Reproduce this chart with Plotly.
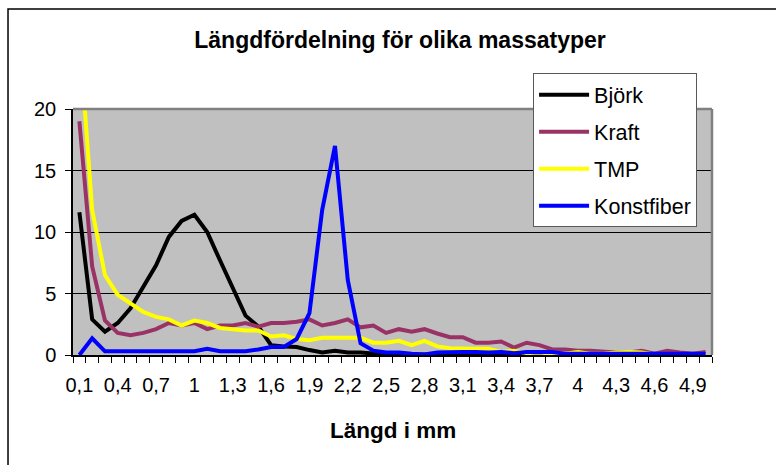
import plotly.graph_objects as go

# Category axis: fibre length in mm
lengths = [0.1, 0.2, 0.3, 0.4, 0.5, 0.6, 0.7, 0.8, 0.9, 1.0,
           1.1, 1.2, 1.3, 1.4, 1.5, 1.6, 1.7, 1.8, 1.9, 2.0,
           2.1, 2.2, 2.3, 2.4, 2.5, 2.6, 2.7, 2.8, 2.9, 3.0,
           3.1, 3.2, 3.3, 3.4, 3.5, 3.6, 3.7, 3.8, 3.9, 4.0,
           4.1, 4.2, 4.3, 4.4, 4.5, 4.6, 4.7, 4.8, 4.9, 5.0]

bjork = [11.6, 2.9, 1.9, 2.6, 3.8, 5.6, 7.3, 9.6, 10.9, 11.4,
         10.0, 7.7, 5.4, 3.2, 2.3, 0.8, 0.7, 0.65, 0.4, 0.2,
         0.35, 0.2, 0.2, 0.1, 0.05, 0.05, 0.05, 0.0, 0.0, 0.0,
         0.0, 0.0, 0.0, 0.0, 0.0, 0.0, 0.0, 0.0, 0.0, 0.0,
         0.0, 0.0, 0.0, 0.0, 0.0, 0.0, 0.0, 0.0, 0.0, 0.0]

kraft = [19.0, 7.2, 2.8, 1.8, 1.6, 1.8, 2.1, 2.6, 2.4, 2.6,
         2.1, 2.4, 2.4, 2.6, 2.3, 2.6, 2.6, 2.7, 2.9, 2.4,
         2.6, 2.9, 2.25, 2.4, 1.8, 2.1, 1.9, 2.1, 1.75, 1.45,
         1.45, 1.0, 1.0, 1.1, 0.6, 1.0, 0.8, 0.45, 0.45, 0.35,
         0.35, 0.25, 0.2, 0.2, 0.35, 0.1, 0.35, 0.2, 0.1, 0.25]

tmp = [26.0, 11.8, 6.5, 4.9, 4.2, 3.5, 3.1, 2.9, 2.4, 2.8,
       2.6, 2.2, 2.1, 2.0, 2.0, 1.5, 1.6, 1.3, 1.2, 1.4,
       1.4, 1.4, 1.4, 1.0, 1.0, 1.15, 0.8, 1.15, 0.7, 0.55,
       0.5, 0.5, 0.5, 0.25, 0.35, 0.15, 0.2, 0.1, 0.1, 0.25,
       0.1, 0.1, 0.2, 0.25, 0.2, 0.05, 0.05, 0.05, 0.05, 0.0]

konstfiber = [0.0, 1.35, 0.3, 0.3, 0.3, 0.3, 0.3, 0.3, 0.3, 0.3,
              0.5, 0.3, 0.3, 0.3, 0.45, 0.65, 0.65, 1.3, 3.4, 11.8,
              17.0, 6.1, 0.95, 0.35, 0.2, 0.2, 0.1, 0.05, 0.2, 0.25,
              0.25, 0.25, 0.2, 0.25, 0.15, 0.25, 0.25, 0.25, 0.1, 0.1,
              0.1, 0.1, 0.1, 0.1, 0.1, 0.1, 0.1, 0.1, 0.1, 0.1]

tick_vals = [0.1, 0.4, 0.7, 1.0, 1.3, 1.6, 1.9, 2.2, 2.5, 2.8,
             3.1, 3.4, 3.7, 4.0, 4.3, 4.6, 4.9]
tick_text = ["0,1", "0,4", "0,7", "1", "1,3", "1,6", "1,9", "2,2", "2,5", "2,8",
             "3,1", "3,4", "3,7", "4", "4,3", "4,6", "4,9"]

series = [("Björk", bjork, "#000000"),
          ("Kraft", kraft, "#993366"),
          ("TMP", tmp, "#FFFF00"),
          ("Konstfiber", konstfiber, "#0000FF")]

FONT = "Liberation Sans, Arial, sans-serif"

fig = go.Figure()
for name, vals, col in series:
    fig.add_trace(go.Scatter(x=lengths, y=vals, mode="lines", name=name,
                             legendgroup=name,
                             line=dict(color=col, width=4)))

fig.update_layout(
    width=776, height=465,
    margin=dict(l=73, r=64, t=109, b=110),
    paper_bgcolor="white",
    plot_bgcolor="#C0C0C0",
    font=dict(family=FONT, color="black", size=20),
    title=dict(text="<b>Längdfördelning för olika massatyper</b>",
               x=0.5155, xanchor="center", xref="container",
               y=0.915, yanchor="middle", yref="container",
               font=dict(size=23, family=FONT, color="black")),
    showlegend=True,
    legend=dict(x=0.72, xanchor="left", y=1.145, yanchor="top",
                bgcolor="white", bordercolor="#595959", borderwidth=1,
                font=dict(size=21.5, family=FONT, color="black"),
                traceorder="grouped", tracegroupgap=6, itemwidth=50),
)

fig.update_xaxes(
    range=[0.05, 5.05], tickmode="array", tickvals=tick_vals, ticktext=tick_text,
    ticks="outside", ticklen=11, tickcolor="rgba(0,0,0,0)",
    showgrid=False, zeroline=False,
    showline=True, linecolor="black", linewidth=1.5,
    tickfont=dict(size=20),
    minor=dict(tick0=0.05, dtick=0.1, ticks="outside", ticklen=6,
               tickcolor="black", showgrid=False),
)
fig.update_yaxes(
    range=[0, 20], dtick=5, ticks="outside", ticklen=6, tickcolor="black",
    showgrid=True, gridcolor="black", gridwidth=1,
    zeroline=False, showline=True, linecolor="black", linewidth=1.5,
    tickfont=dict(size=20), ticklabelstandoff=5,
)

# plot area top/right border (grey) and outer chart frame
fig.add_shape(type="line", xref="paper", yref="paper", x0=0, x1=1, y0=1, y1=1,
              line=dict(color="#808080", width=2.5))
fig.add_shape(type="line", xref="paper", yref="paper", x0=1, x1=1, y0=0, y1=1,
              line=dict(color="#808080", width=2.5))
fig.add_shape(type="rect", xref="paper", yref="paper",
              x0=-0.1017, x1=1.3, y0=-0.7, y1=1.407,
              line=dict(color="black", width=1.5), layer="below")

fig.add_annotation(text="<b>Längd i mm</b>", xref="paper", yref="paper",
                   x=0.5, y=-0.305, xanchor="center", yanchor="middle",
                   showarrow=False, font=dict(size=22.5, family=FONT, color="black"))

fig.write_html("out.html", config={"displayModeBar": False},
               post_script="document.body.style.margin='0';")
